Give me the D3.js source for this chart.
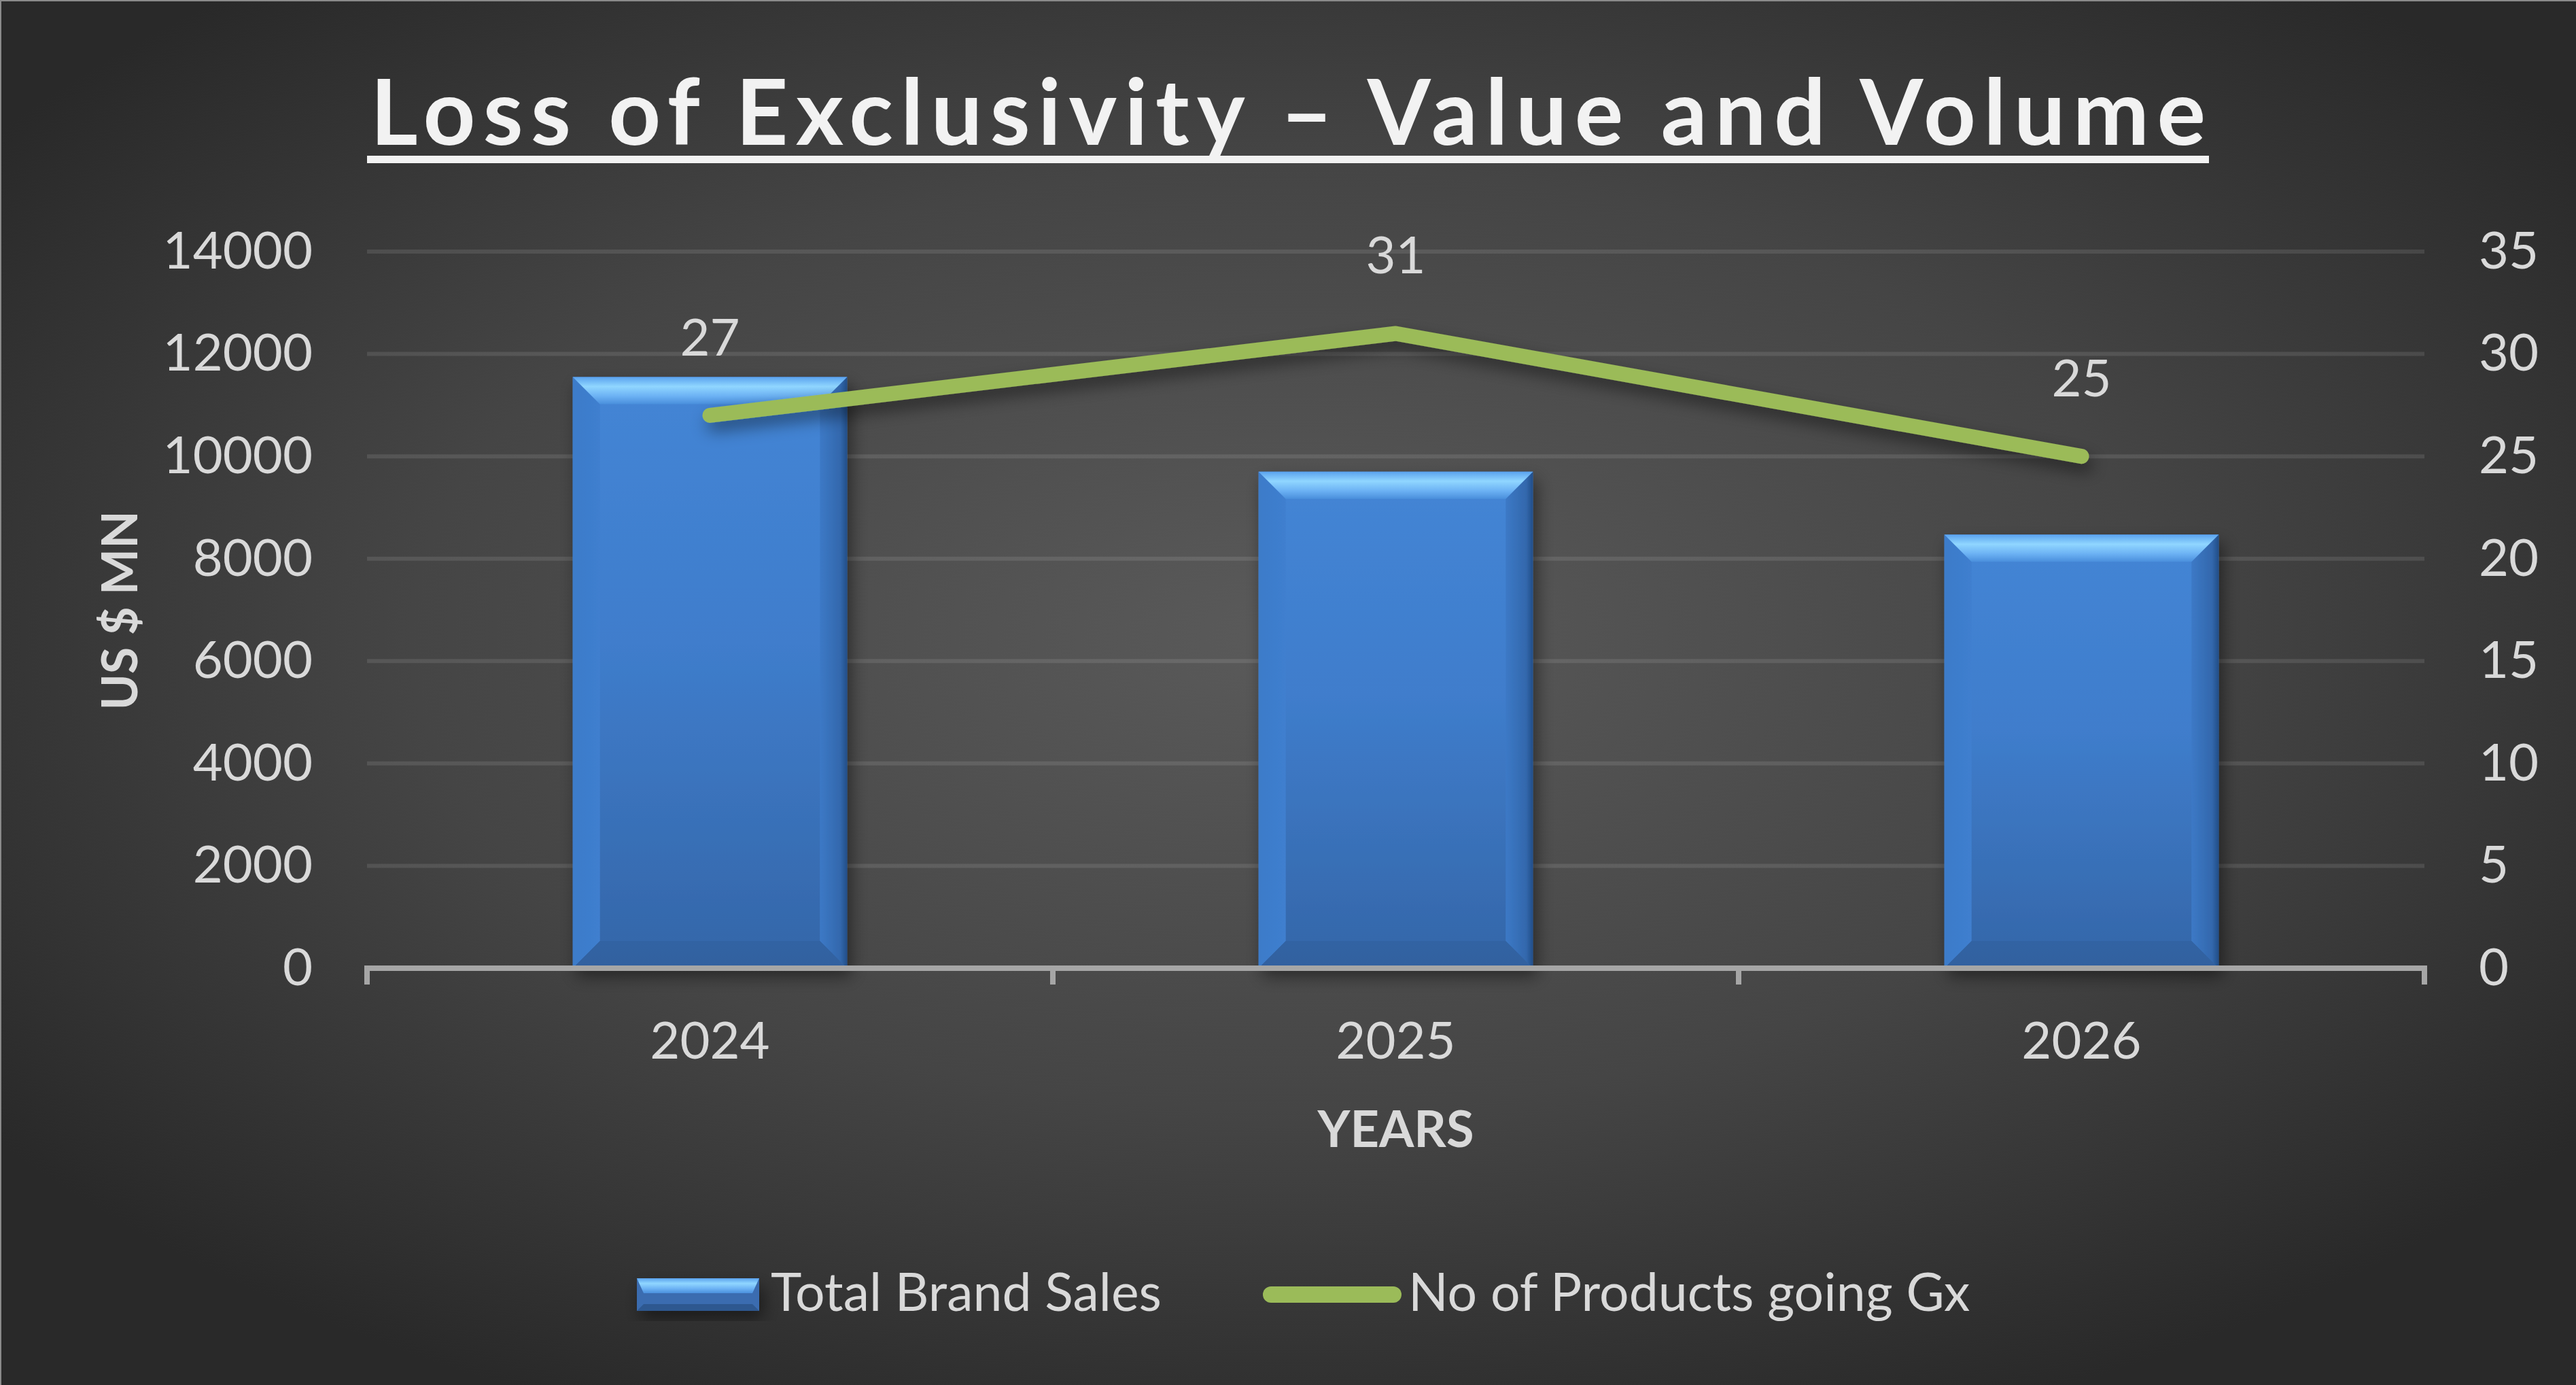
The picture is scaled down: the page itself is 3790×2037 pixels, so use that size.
<!DOCTYPE html>
<html>
<head>
<meta charset="utf-8">
<script src="https://cdn.jsdelivr.net/npm/d3@7"></script>
<style>
  html, body { margin: 0; padding: 0; background: #2a2a2a; }
  svg { display: block; }
  text { font-family: Lato, "Open Sans", sans-serif; }
</style>
</head>
<body>
<svg id="chart" width="3790" height="2037"></svg>
<script>
const years = ["2024", "2025", "2026"];
const brandSales = [11550, 9700, 8470];
const productsGx = [27, 31, 25];
const leftTicks = [0, 2000, 4000, 6000, 8000, 10000, 12000, 14000];
const rightTicks = [0, 5, 10, 15, 20, 25, 30, 35];

const titleText = "Loss of Exclusivity \u2013 Value and Volume";
const legendNames = ["Total Brand Sales", "No of Products going Gx"];

const svg = d3.select("#chart"),
  W = +svg.attr("width"),
  H = +svg.attr("height"),
  margin = {top: 370, right: 223, bottom: 613, left: 540},
  plotW = W - margin.left - margin.right,
  plotH = H - margin.top - margin.bottom;

const defs = svg.append("defs");

// background: soft radial light in the middle
const bg = defs.append("radialGradient")
    .attr("id", "bg")
    .attr("cx", "50%").attr("cy", "46%").attr("r", "62%");
bg.append("stop").attr("offset", "0%").attr("stop-color", "#5a5a5a");
bg.append("stop").attr("offset", "55%").attr("stop-color", "#454545");
bg.append("stop").attr("offset", "100%").attr("stop-color", "#292929");

function vGrad(id, stops) {
  const gr = defs.append("linearGradient").attr("id", id)
      .attr("x1", 0).attr("y1", 0).attr("x2", 0).attr("y2", 1);
  stops.forEach(s => gr.append("stop").attr("offset", s[0]).attr("stop-color", s[1]));
}
function hGrad(id, stops) {
  const gr = defs.append("linearGradient").attr("id", id)
      .attr("x1", 0).attr("y1", 0).attr("x2", 1).attr("y2", 0);
  stops.forEach(s => gr.append("stop").attr("offset", s[0]).attr("stop-color", s[1]));
}
vGrad("face", [["0%", "#4485d5"], ["45%", "#3f7dcc"], ["100%", "#3466a8"]]);
vGrad("topBevel", [["0%", "#5aa2ee"], ["35%", "#90d6ff"], ["70%", "#6cb2f4"], ["100%", "#4a8fdc"]]);
vGrad("bottomBevel", [["0%", "#3263a3"], ["100%", "#32619f"]]);
hGrad("leftBevel", [["0%", "#3c7bc9"], ["100%", "#3f7fcf", 0]]);
hGrad("rightBevel", [["0%", "#3c79c6"], ["75%", "#3368ad"], ["100%", "#224e88"]]);

const shadow = defs.append("filter").attr("id", "shadow")
    .attr("x", "-20%").attr("y", "-20%").attr("width", "150%").attr("height", "150%");
shadow.append("feDropShadow")
    .attr("dx", 6).attr("dy", 12).attr("stdDeviation", 12)
    .attr("flood-color", "#000").attr("flood-opacity", 0.45);

svg.append("rect")
    .attr("width", W).attr("height", H)
    .attr("fill", "url(#bg)");

// thin frame line along top and left
svg.append("path")
    .attr("d", "M1," + H + "V1H" + W)
    .attr("fill", "none").attr("stroke", "#8a8a8a").attr("stroke-width", 2);

// title
svg.append("text")
    .attr("x", W / 2).attr("y", 213)
    .attr("text-anchor", "middle")
    .attr("font-size", 134).attr("font-weight", 700)
    .attr("fill", "#f2f2f2")
    .attr("textLength", 2700).attr("lengthAdjust", "spacing")
    .text(titleText);
svg.append("rect")
    .attr("x", W / 2 - 1355).attr("y", 229)
    .attr("width", 2710).attr("height", 11)
    .attr("fill", "#f2f2f2");

const x = d3.scaleBand().domain(years)
    .range([margin.left, margin.left + plotW]);
const xBar = d3.scaleBand().domain(years)
    .range([margin.left, margin.left + plotW])
    .paddingInner(0.6).paddingOuter(0.3);
const yL = d3.scaleLinear().domain([0, 14000]).range([margin.top + plotH, margin.top]);
const yR = d3.scaleLinear().domain([0, 35]).range([margin.top + plotH, margin.top]);

// gridlines
svg.append("g")
    .selectAll("line")
    .data(leftTicks.slice(1))
    .join("line")
    .attr("x1", margin.left).attr("x2", margin.left + plotW)
    .attr("y1", d => yL(d)).attr("y2", d => yL(d))
    .attr("stroke", "#ffffff").attr("stroke-opacity", 0.1)
    .attr("stroke-width", 6);

// left axis
const gLeft = svg.append("g")
    .attr("transform", "translate(" + margin.left + ",0)")
    .call(d3.axisLeft(yL).tickValues(leftTicks).tickFormat(d3.format("d"))
      .tickSize(0).tickPadding(80));
gLeft.select(".domain").remove();
gLeft.selectAll("text")
    .attr("font-size", 76).attr("fill", "#d9d9d9")
    .attr("font-family", "Lato, sans-serif");

// right axis
const gRight = svg.append("g")
    .attr("transform", "translate(" + (margin.left + plotW) + ",0)")
    .call(d3.axisRight(yR).tickValues(rightTicks).tickFormat(d3.format("d"))
      .tickSize(0).tickPadding(80));
gRight.select(".domain").remove();
gRight.selectAll("text")
    .attr("font-size", 76).attr("fill", "#d9d9d9")
    .attr("font-family", "Lato, sans-serif");

// bars
const bars = svg.append("g")
    .selectAll("g")
    .data(years.map((yr, i) => ({year: yr, value: brandSales[i]})))
    .join("g")
    .attr("filter", "url(#shadow)");

function bevelBar(sel, bv) {
  sel.each(function(d) {
    const g = d3.select(this),
      x0 = xBar(d.year), x1 = x0 + xBar.bandwidth(),
      y0 = yL(d.value), y1 = yL(0);
    g.append("rect")
        .attr("x", x0).attr("y", y0)
        .attr("width", x1 - x0).attr("height", y1 - y0)
        .attr("fill", "url(#face)");
    const poly = (pts, fill) => g.append("polygon")
        .attr("points", pts.map(p => p.join(",")).join(" "))
        .attr("fill", fill);
    poly([[x0, y0], [x0 + bv, y0 + bv], [x0 + bv, y1 - bv], [x0, y1]], "url(#leftBevel)");
    poly([[x1, y0], [x1 - bv, y0 + bv], [x1 - bv, y1 - bv], [x1, y1]], "url(#rightBevel)");
    poly([[x0, y1], [x0 + bv, y1 - bv], [x1 - bv, y1 - bv], [x1, y1]], "url(#bottomBevel)");
    poly([[x0, y0], [x1, y0], [x1 - bv, y0 + bv], [x0 + bv, y0 + bv]], "url(#topBevel)");
  });
}
bevelBar(bars, 40);

// x axis line and ticks
const gX = svg.append("g")
    .attr("transform", "translate(0," + (margin.top + plotH) + ")");
gX.append("line")
    .attr("x1", margin.left).attr("x2", margin.left + plotW)
    .attr("stroke", "#a6a6a6").attr("stroke-width", 8);
gX.selectAll(".tick-mark")
    .data(years.map(yr => x(yr)).concat([margin.left + plotW]))
    .join("line")
    .attr("class", "tick-mark")
    .attr("x1", d => d).attr("x2", d => d)
    .attr("y1", -4).attr("y2", 24)
    .attr("stroke", "#a6a6a6").attr("stroke-width", 8);
gX.selectAll(".year")
    .data(years)
    .join("text")
    .attr("class", "year")
    .attr("x", d => x(d) + x.bandwidth() / 2)
    .attr("y", 133)
    .attr("text-anchor", "middle")
    .attr("font-size", 76).attr("fill", "#d9d9d9")
    .text(d => d);

// line series
const line = d3.line()
    .x((d, i) => x(years[i]) + x.bandwidth() / 2)
    .y(d => yR(d));

svg.append("path")
    .datum(productsGx)
    .attr("d", line)
    .attr("fill", "none")
    .attr("stroke", "#9bbb59")
    .attr("stroke-width", 22)
    .attr("stroke-linecap", "round")
    .attr("stroke-linejoin", "round")
    .attr("filter", "url(#shadow)");

svg.append("g")
    .selectAll("text")
    .data(productsGx)
    .join("text")
    .attr("x", (d, i) => x(years[i]) + x.bandwidth() / 2)
    .attr("y", d => yR(d) - 88)
    .attr("text-anchor", "middle")
    .attr("font-size", 76).attr("fill", "#d9d9d9")
    .text(d => d);

// axis titles
svg.append("text")
    .attr("transform", "translate(202," + 898 + ") rotate(-90)")
    .attr("text-anchor", "middle")
    .attr("font-size", 72).attr("font-weight", 700)
    .attr("fill", "#d9d9d9")
    .text("US $ MN");

svg.append("text")
    .attr("x", x("2025") + x.bandwidth() / 2).attr("y", 1687)
    .attr("text-anchor", "middle")
    .attr("font-size", 74).attr("font-weight", 700)
    .attr("fill", "#d9d9d9")
    .text("YEARS");

// legend
const legend = svg.append("g");
const sw = legend.append("g").attr("filter", "url(#shadow)");
sw.append("rect")
    .attr("x", 937).attr("y", 1880).attr("width", 180).attr("height", 48)
    .attr("fill", "#3a6cb0");
sw.append("polygon")
    .attr("points", "937,1880 1117,1880 1107,1902 947,1902")
    .attr("fill", "url(#topBevel)");
sw.append("polygon")
    .attr("points", "937,1928 947,1918 1107,1918 1117,1928")
    .attr("fill", "#2d5890");
legend.append("text")
    .attr("x", 1134).attr("y", 1928)
    .attr("font-size", 77).attr("fill", "#d9d9d9")
    .text(legendNames[0]);
legend.append("line")
    .attr("x1", 1870).attr("x2", 2050)
    .attr("y1", 1904).attr("y2", 1904)
    .attr("stroke", "#9bbb59").attr("stroke-width", 24)
    .attr("stroke-linecap", "round");
legend.append("text")
    .attr("x", 2072).attr("y", 1928)
    .attr("font-size", 77).attr("fill", "#d9d9d9")
    .text(legendNames[1]);
</script>
</body>
</html>
